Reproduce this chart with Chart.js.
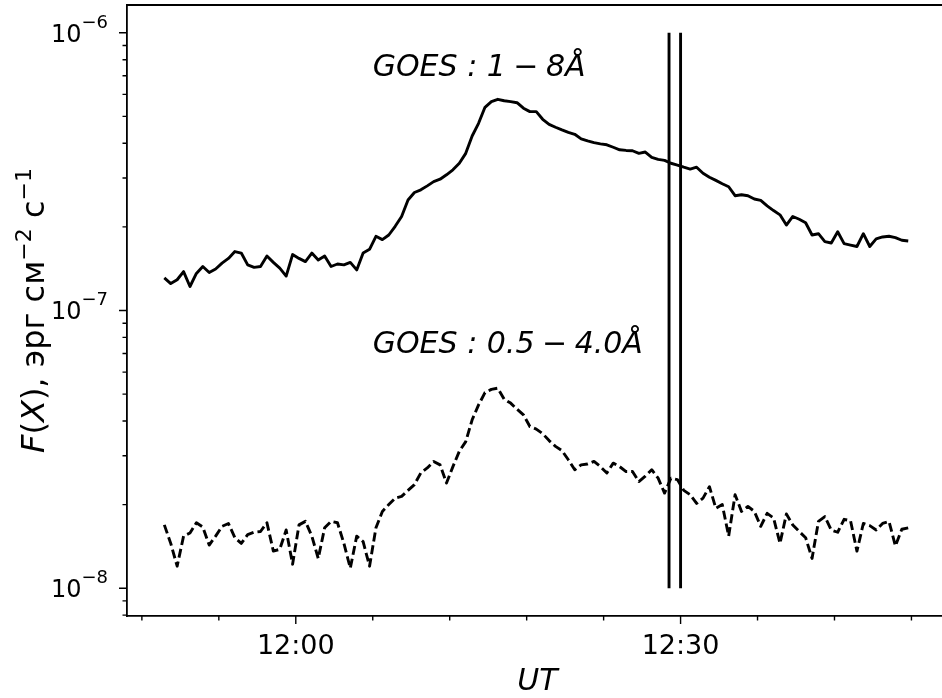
<!DOCTYPE html>
<html>
<head>
<meta charset="utf-8">
<script src="https://cdn.jsdelivr.net/npm/chart.js@4/dist/chart.umd.min.js"></script>
<style>
  html, body { margin: 0; padding: 0; background: #fff; width: 942px; height: 698px; overflow: hidden; }
  canvas { display: block; }
</style>
</head>
<body>
<canvas id="goes" width="950" height="698"></canvas>
<script>
// GOES X-ray flux, 30-second samples starting at 11:49:45 UT (minutes of day)
const startMinute = 709.75;
const stepMinute = 0.5;

// 1-8 Å channel, units of 1e-7 erg cm^-2 s^-1
const flux1to8 = [
  1.31,1.25,1.29,1.38,1.22,1.36,1.44,1.37,1.41,1.48,
  1.54,1.63,1.61,1.46,1.43,1.44,1.57,1.49,1.42,1.33,
  1.59,1.54,1.50,1.61,1.52,1.57,1.44,1.47,1.46,1.49,
  1.40,1.61,1.66,1.85,1.80,1.87,2.01,2.18,2.50,2.66,
  2.72,2.81,2.91,2.97,3.08,3.21,3.39,3.68,4.25,4.72,
  5.39,5.65,5.76,5.69,5.65,5.60,5.35,5.20,5.20,4.88,
  4.68,4.57,4.47,4.38,4.31,4.15,4.08,4.02,3.98,3.95,
  3.87,3.79,3.77,3.76,3.68,3.72,3.56,3.50,3.47,3.39,
  3.34,3.28,3.23,3.28,3.12,3.02,2.94,2.86,2.79,2.59,
  2.61,2.59,2.52,2.49,2.38,2.29,2.21,2.03,2.18,2.13,
  2.07,1.87,1.89,1.77,1.75,1.92,1.74,1.72,1.70,1.89,
  1.70,1.81,1.84,1.85,1.83,1.79,1.78
];
const scale1to8 = 1e-7;

// 0.5-4.0 Å channel, units of 1e-8 erg cm^-2 s^-1
const flux05to4 = [
  1.69,1.45,1.20,1.54,1.58,1.72,1.66,1.43,1.54,1.67,
  1.71,1.52,1.45,1.56,1.59,1.60,1.72,1.36,1.38,1.62,
  1.22,1.69,1.74,1.54,1.28,1.65,1.74,1.72,1.45,1.18,
  1.54,1.47,1.20,1.65,1.89,2.00,2.11,2.14,2.25,2.36,
  2.60,2.71,2.86,2.78,2.39,2.74,3.11,3.37,4.04,4.57,
  5.06,5.20,5.25,4.79,4.64,4.41,4.21,3.82,3.74,3.60,
  3.40,3.24,3.13,2.90,2.67,2.78,2.80,2.86,2.74,2.60,
  2.82,2.74,2.63,2.63,2.42,2.53,2.67,2.49,2.20,2.49,
  2.46,2.25,2.17,2.02,2.11,2.32,1.94,2.00,1.54,2.17,
  1.89,1.97,1.89,1.67,1.86,1.79,1.45,1.85,1.69,1.60,
  1.52,1.28,1.74,1.81,1.62,1.59,1.77,1.75,1.36,1.71,
  1.68,1.62,1.71,1.74,1.42,1.63,1.65
];
const scale05to4 = 1e-8;

// Interval markers (minutes of day: 12:29:06 and 12:30:00) and their vertical span
const markerMinutes = [749.1, 750.0];
const markerSpan = [1e-8, 1e-6];

// Axis ticks
const xTickMinutes = [708, 714, 720, 726, 732, 738, 744, 750, 756, 762, 768];
const xTickLabels  = ['', '', '12:00', '', '', '', '', '12:30', '', '', ''];
const yDecades = [1e-8, 1e-7, 1e-6];
const yMinorMultipliers = [2, 3, 4, 5, 6, 7, 8, 9];

// Channel annotations: text, minute of day, flux at baseline
const channelNotes = ['GOES : 1\u2005\u2212\u20058\u00C5', 'GOES : 0.5\u2005\u2212\u20054.0\u00C5'];
const noteMinutes = [726.0, 726.0];
const noteFlux = [7e-7, 7e-8];

const FONT = "'DejaVu Sans', sans-serif";

const times = flux1to8.map((_, i) => startMinute + i * stepMinute);
const yTickValues = [8e-9, 9e-9];
yDecades.forEach(d => {
  yTickValues.push(d);
  if (d < 1e-6) yMinorMultipliers.forEach(m => yTickValues.push(m * d));
});

function isDecade(v) {
  const l = Math.log10(v);
  return Math.abs(l - Math.round(l)) < 1e-9;
}

// Frame, tick marks, tick labels, axis titles and channel notes
const decorations = {
  id: 'decorations',
  afterDraw(chart) {
    const { ctx, chartArea: a } = chart;
    const xs = chart.scales.x, ys = chart.scales.y;
    ctx.save();
    ctx.strokeStyle = '#000';
    ctx.fillStyle = '#000';

    // top and right spines
    ctx.lineWidth = 1.8;
    ctx.beginPath();
    ctx.moveTo(a.left - 0.9, a.top);
    ctx.lineTo(a.right, a.top);
    ctx.lineTo(a.right, a.bottom);
    ctx.stroke();

    // tick marks
    ctx.lineWidth = 1.4;
    ctx.beginPath();
    ys.ticks.forEach(t => {
      const py = ys.getPixelForValue(t.value);
      const len = isDecade(t.value) ? 8 : 4.5;
      ctx.moveTo(a.left - len, py);
      ctx.lineTo(a.left, py);
    });
    xs.ticks.forEach((t, i) => {
      const px = xs.getPixelForValue(t.value);
      const len = xTickLabels[i] ? 8 : 4.5;
      ctx.moveTo(px, a.bottom);
      ctx.lineTo(px, a.bottom + len);
    });
    ctx.stroke();

    // x tick labels
    ctx.textBaseline = 'alphabetic';
    ctx.textAlign = 'center';
    ctx.font = `27px ${FONT}`;
    xs.ticks.forEach((t, i) => {
      if (xTickLabels[i]) ctx.fillText(xTickLabels[i], xs.getPixelForValue(t.value), a.bottom + 38);
    });

    // y tick labels as powers of ten
    ctx.textAlign = 'left';
    yDecades.forEach(v => {
      const py = ys.getPixelForValue(v);
      const ex = '\u2212' + Math.abs(Math.round(Math.log10(v)));
      ctx.font = `18px ${FONT}`;
      const we = ctx.measureText(ex).width;
      ctx.font = `24px ${FONT}`;
      const wb = ctx.measureText('10').width;
      const right = a.left - 19;
      ctx.fillText('10', right - we - wb, py + 9);
      ctx.font = `18px ${FONT}`;
      ctx.fillText(ex, right - we, py - 5);
    });

    // x axis title
    ctx.textAlign = 'center';
    ctx.font = `italic 30px ${FONT}`;
    ctx.fillText('UT', (a.left + a.right) / 2, 690);

    // y axis title with superscripts
    const parts = [
      { t: 'F', f: `italic 32px ${FONT}`, dy: 0 },
      { t: '(', f: `32px ${FONT}`, dy: 0 },
      { t: 'X', f: `italic 32px ${FONT}`, dy: 0 },
      { t: '), \u044D\u0440\u0433 \u0441\u043C', f: `32px ${FONT}`, dy: 0 },
      { t: '\u22122', f: `22px ${FONT}`, dy: -13 },
      { t: ' \u0441', f: `32px ${FONT}`, dy: 0 },
      { t: '\u22121', f: `22px ${FONT}`, dy: -13 }
    ];
    let total = 0;
    parts.forEach(p => { ctx.font = p.f; p.w = ctx.measureText(p.t).width; total += p.w; });
    ctx.translate(44, (a.top + a.bottom) / 2);
    ctx.rotate(-Math.PI / 2);
    ctx.textAlign = 'left';
    let cx = -total / 2;
    parts.forEach(p => { ctx.font = p.f; ctx.fillText(p.t, cx, p.dy); cx += p.w; });
    ctx.setTransform(1, 0, 0, 1, 0, 0);

    // channel notes
    ctx.font = `italic 30px ${FONT}`;
    ctx.textAlign = 'left';
    channelNotes.forEach((txt, i) => {
      ctx.fillText(txt, xs.getPixelForValue(noteMinutes[i]), ys.getPixelForValue(noteFlux[i]));
    });
    ctx.restore();
  }
};

const lineStyle = { borderColor: '#000', borderWidth: 2.9, pointRadius: 0, fill: false, tension: 0, borderJoinStyle: 'round' };

new Chart(document.getElementById('goes'), {
  type: 'line',
  data: {
    datasets: [
      Object.assign({ label: '1-8 Å', data: times.map((t, i) => ({ x: t, y: flux1to8[i] * scale1to8 })) }, lineStyle),
      Object.assign({ label: '0.5-4.0 Å', data: times.map((t, i) => ({ x: t, y: flux05to4[i] * scale05to4 })), borderDash: [9, 4] }, lineStyle),
      Object.assign({ label: 'start', data: markerSpan.map(v => ({ x: markerMinutes[0], y: v })) }, lineStyle),
      Object.assign({ label: 'end', data: markerSpan.map(v => ({ x: markerMinutes[1], y: v })) }, lineStyle)
    ]
  },
  options: {
    responsive: false,
    animation: false,
    devicePixelRatio: 1,
    layout: { padding: { top: 5, right: 2, left: 0, bottom: 0 } },
    plugins: { legend: { display: false }, tooltip: { enabled: false } },
    scales: {
      x: {
        type: 'linear', min: 706.84, max: 770.85,
        afterBuildTicks: s => { s.ticks = xTickMinutes.map(v => ({ value: v })); },
        afterFit: s => { s.height = 82; },
        ticks: { display: false },
        grid: { display: false },
        border: { display: true, color: '#000', width: 1.8 }
      },
      y: {
        type: 'logarithmic', min: 7.94e-9, max: 1.259e-6,
        afterBuildTicks: s => { s.ticks = yTickValues.map(v => ({ value: v })); },
        afterFit: s => { s.width = 127; },
        ticks: { display: false },
        grid: { display: false },
        border: { display: true, color: '#000', width: 1.8 }
      }
    }
  },
  plugins: [decorations]
});
</script>
</body>
</html>
